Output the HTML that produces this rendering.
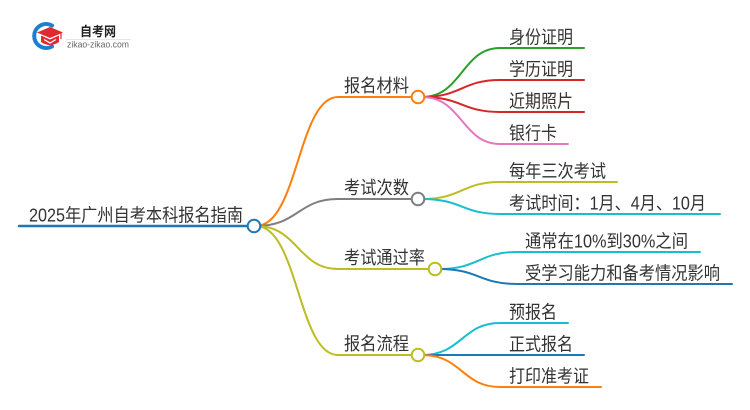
<!DOCTYPE html>
<html>
<head>
<meta charset="utf-8">
<style>
  html,body{margin:0;padding:0;background:#fff;}
  body{width:750px;height:410px;overflow:hidden;}
  svg{display:block;}
  text{font-family:"Liberation Sans","Noto Sans CJK SC",sans-serif;fill:#333;}
</style>
</head>
<body>
<svg width="750" height="410" viewBox="0 0 750 410" xmlns="http://www.w3.org/2000/svg">
  <!-- Logo -->
  <g>
    <path d="M52 25.5 A12 12 0 1 0 52 46.5" fill="none" stroke="#1d7fd0" stroke-width="4" stroke-linecap="round"/>
    <polygon points="37,32.5 50,27 63,32.5 50,38" fill="#e0282e"/>
    <path d="M41 35.5 L41 42 Q50 48 59 42 L59 35.5 L50 39.5 Z" fill="#e0282e"/>
    <polyline points="44,39.5 50,43 56,39.5" fill="none" stroke="#fff" stroke-width="1.3"/>
    <line x1="61" y1="33" x2="61" y2="39" stroke="#e0282e" stroke-width="1.2"/>
    <text x="80" y="36" font-size="13" font-weight="bold" textLength="36" lengthAdjust="spacingAndGlyphs" style="fill:#222">自考网</text>
    <line x1="66" y1="39.5" x2="131" y2="39.5" stroke="#e6e6e6" stroke-width="1"/>
    <text x="67" y="47.5" font-size="9" textLength="62" lengthAdjust="spacingAndGlyphs" style="fill:#666">zikao-zikao.com</text>
  </g>

  <g fill="none" stroke-width="2" stroke-linecap="round">
    <!-- root line -->
    <line x1="19" y1="226" x2="250" y2="226" stroke="#1f77b4" stroke-width="2.5"/>

    <!-- level 1 curves -->
    <path d="M256 226 C298 226 298 97 338 97 L414 97" stroke="#ff7f0e"/>
    <path d="M256 226 C298 226 298 199 338 199 L414 199" stroke="#7f7f7f"/>
    <path d="M256 226 C298 226 298 269 338 269 L431 269" stroke="#bcbd22"/>
    <path d="M256 226 C298 226 298 355 338 355 L414 355" stroke="#bcbd22"/>

    <!-- 报名材料 leaves -->
    <path d="M422 97 C462 97 462 48 500 48 L584 48" stroke="#2ca02c"/>
    <path d="M422 97 C462 97 462 80 500 80 L584 80" stroke="#d62728"/>
    <path d="M422 97 C462 97 462 112 500 112 L584 112" stroke="#d62728"/>
    <path d="M422 97 C462 97 462 144 500 144 L568 144" stroke="#e377c2"/>

    <!-- 考试次数 leaves -->
    <path d="M422 199 C462 199 462 182 500 182 L617 182" stroke="#bcbd22"/>
    <path d="M422 199 C462 199 462 214 500 214 L720 214" stroke="#17becf"/>

    <!-- 考试通过率 leaves -->
    <path d="M439 269 C479 269 479 252 517 252 L700 252" stroke="#17becf"/>
    <path d="M439 269 C479 269 479 284 517 284 L732 284" stroke="#1f77b4"/>

    <!-- 报名流程 leaves -->
    <path d="M422 355 C462 355 462 323 500 323 L568 323" stroke="#17becf"/>
    <path d="M422 355 L584 355" stroke="#1f77b4"/>
    <path d="M422 355 C462 355 462 387 500 387 L601 387" stroke="#ff7f0e"/>
  </g>

  <!-- circles -->
  <g fill="#fff" stroke-width="2">
    <circle cx="254" cy="226" r="6.3" stroke="#1f77b4"/>
    <circle cx="418" cy="97" r="6.3" stroke="#ff7f0e"/>
    <circle cx="418" cy="199" r="6.3" stroke="#7f7f7f"/>
    <circle cx="435" cy="269" r="6.3" stroke="#bcbd22"/>
    <circle cx="418" cy="355" r="6.3" stroke="#bcbd22"/>
  </g>

  <!-- labels -->
  <g font-size="18">
    <text x="29" y="221.5" textLength="214" lengthAdjust="spacingAndGlyphs">2025年广州自考本科报名指南</text>

    <text x="344" y="92" textLength="65" lengthAdjust="spacingAndGlyphs">报名材料</text>
    <text x="344" y="194" textLength="65" lengthAdjust="spacingAndGlyphs">考试次数</text>
    <text x="344" y="264" textLength="81" lengthAdjust="spacingAndGlyphs">考试通过率</text>
    <text x="344" y="350" textLength="65" lengthAdjust="spacingAndGlyphs">报名流程</text>

    <text x="509" y="43.5" textLength="64" lengthAdjust="spacingAndGlyphs">身份证明</text>
    <text x="509" y="75.5" textLength="64" lengthAdjust="spacingAndGlyphs">学历证明</text>
    <text x="509" y="107.5" textLength="64" lengthAdjust="spacingAndGlyphs">近期照片</text>
    <text x="509" y="139.5" textLength="48" lengthAdjust="spacingAndGlyphs">银行卡</text>

    <text x="509" y="177.5" textLength="97" lengthAdjust="spacingAndGlyphs">每年三次考试</text>
    <text x="509" y="209.5" textLength="197" lengthAdjust="spacingAndGlyphs">考试时间：1月、4月、10月</text>

    <text x="525" y="247.5" textLength="163" lengthAdjust="spacingAndGlyphs">通常在10%到30%之间</text>
    <text x="525" y="279.5" textLength="195" lengthAdjust="spacingAndGlyphs">受学习能力和备考情况影响</text>

    <text x="509" y="318.5" textLength="48" lengthAdjust="spacingAndGlyphs">预报名</text>
    <text x="509" y="350.5" textLength="64" lengthAdjust="spacingAndGlyphs">正式报名</text>
    <text x="509" y="382.5" textLength="80" lengthAdjust="spacingAndGlyphs">打印准考证</text>
  </g>
</svg>
</body>
</html>
